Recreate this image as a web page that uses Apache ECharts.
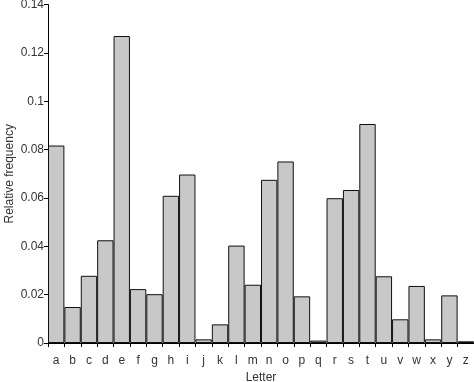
<!DOCTYPE html>
<html><head><meta charset="utf-8">
<script src="https://cdn.jsdelivr.net/npm/echarts@6/dist/echarts.min.js"></script>
<style>html,body{margin:0;padding:0;background:#fff}#c{width:474px;height:382px}</style>
</head><body><div id="c"></div>
<script>
const letters = ['a','b','c','d','e','f','g','h','i','j','k','l','m','n','o','p','q','r','s','t','u','v','w','x','y','z'];
const freq = [0.0817,0.0149,0.0278,0.0425,0.127,0.0223,0.0202,0.0609,0.0697,0.0015,0.0077,0.0403,0.0241,0.0675,0.0751,0.0193,0.001,0.0599,0.0633,0.0906,0.0276,0.0098,0.0236,0.0015,0.0197,0.0007];
const yTicks = [0,0.02,0.04,0.06,0.08,0.1,0.12,0.14];
const font = 'Liberation Sans, Arial, sans-serif';
const chart = echarts.init(document.getElementById('c'), null, {renderer:'canvas'});
chart.setOption({
  animation:false,
  grid:{left:48,right:0,top:4.6,bottom:39,containLabel:false,outerBoundsMode:'none'},
  xAxis:{type:'category',data:letters,name:'Letter',nameLocation:'middle',nameGap:29,nameMoveOverlap:false,
    nameTextStyle:{fontFamily:font,fontSize:12,color:'#333'},
    axisLine:{lineStyle:{color:'#000',width:1}},
    axisTick:{show:true,length:4,alignWithLabel:false,lineStyle:{color:'#000'}},
    axisLabel:{fontFamily:font,fontSize:12,color:'#333',margin:12,interval:0}},
  yAxis:{type:'value',min:0,max:0.14,interval:0.02,name:'Relative frequency',nameLocation:'middle',nameGap:32,nameMoveOverlap:false,
    nameTextStyle:{fontFamily:font,fontSize:12,color:'#333'},
    axisLine:{show:true,lineStyle:{color:'#000',width:1}},
    axisTick:{show:true,length:4,lineStyle:{color:'#000'}},
    splitLine:{show:false},
    axisLabel:{fontFamily:font,fontSize:12,color:'#333',margin:4,
      formatter:v=>{const t=yTicks.find(x=>Math.abs(x-v)<1e-9);return String(t!==undefined?t:v);}}},
  series:[{type:'bar',data:freq,barWidth:'100%',barCategoryGap:'0%',
    itemStyle:{color:'#c8c8c8',borderColor:'#111',borderWidth:1}}]
});
</script></body></html>
